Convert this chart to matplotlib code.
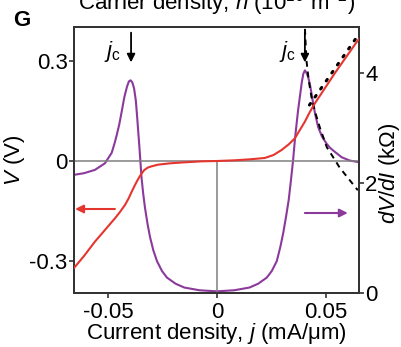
import numpy as np
import matplotlib
matplotlib.use("Agg")
import matplotlib.pyplot as plt

plt.rcParams["font.family"] = ["Liberation Sans", "DejaVu Sans"]
plt.rcParams["mathtext.fontset"] = "custom"
plt.rcParams["mathtext.rm"] = "Liberation Sans"
plt.rcParams["mathtext.it"] = "Liberation Sans:italic"

# current density (mA/um) and voltage V (V), left axis
j_v = [-0.0656, -0.0610, -0.0560, -0.0514, -0.0468, -0.0445, -0.0422, -0.0405, -0.0391,
       -0.0379, -0.0368, -0.0356, -0.0345, -0.0333, -0.0318, -0.0300, -0.0270, -0.0216,
       -0.0150, -0.0070, 0.0, 0.0080, 0.0150, 0.0220, 0.0260, 0.0297, 0.0330, 0.0358,
       0.0380, 0.0404, 0.0425, 0.0450, 0.0541, 0.0600, 0.0642, 0.0652]
v = [-0.321, -0.285, -0.242, -0.207, -0.172, -0.153, -0.132, -0.112, -0.092,
     -0.076, -0.062, -0.048, -0.037, -0.027, -0.020, -0.016, -0.011, -0.007,
     -0.004, -0.001, 0.0, 0.002, 0.005, 0.009, 0.018, 0.033, 0.050, 0.068,
     0.092, 0.118, 0.145, 0.173, 0.263, 0.318, 0.357, 0.366]

# differential resistance dV/dI (kOhm), right axis
j_r = [-0.0656, -0.0610, -0.0560, -0.0514, -0.0483, -0.0470, -0.0460, -0.0448, -0.0437,
       -0.0425, -0.0413, -0.0404, -0.0396, -0.0388, -0.0380, -0.0372, -0.0365, -0.0355,
       -0.0346, -0.0338, -0.0330, -0.0318, -0.0307, -0.0292, -0.0275, -0.0252, -0.0229,
       -0.0190, -0.0150, -0.0080, 0.0, 0.0080, 0.0150, 0.0190, 0.0229, 0.0252, 0.0275,
       0.0292, 0.0305, 0.0318, 0.0330, 0.0340, 0.0350, 0.0358, 0.0366, 0.0373, 0.0382,
       0.0390, 0.0397, 0.0404, 0.0411, 0.0419, 0.0427, 0.0435, 0.0442, 0.0452, 0.0465,
       0.0482, 0.0503, 0.0520, 0.0541, 0.0573, 0.0610, 0.0652]
dvdi = [2.15, 2.18, 2.24, 2.36, 2.55, 2.72, 2.87, 3.07, 3.30,
        3.56, 3.75, 3.85, 3.87, 3.83, 3.72, 3.50, 3.15, 2.62,
        2.10, 1.80, 1.55, 1.25, 1.02, 0.78, 0.58, 0.40, 0.28,
        0.17, 0.10, 0.05, 0.03, 0.05, 0.10, 0.17, 0.28, 0.40, 0.58,
        0.85, 1.10, 1.40, 1.70, 2.05, 2.42, 2.78, 3.08, 3.33, 3.60,
        3.84, 3.99, 4.05, 4.01, 3.93, 3.80, 3.62, 3.45, 3.24, 3.02,
        2.85, 2.72, 2.64, 2.57, 2.47, 2.41, 2.38]

# fits above j_c
j_dash = [0.0402, 0.0411, 0.0422, 0.0434, 0.0452, 0.0472, 0.0505, 0.0526, 0.0564, 0.0647]
r_dash = [5.00, 4.24, 3.86, 3.57, 3.28, 3.02, 2.65, 2.52, 2.28, 1.87]
j_dot = [0.0425, 0.0645]
v_dot = [0.168, 0.374]

red = "#e5352f"
purple = "#8b3a9c"

fig = plt.figure(figsize=(4.01, 3.47), dpi=100)
ax = fig.add_axes([0.1845, 0.1556, 0.7105, 0.7666])
ax2 = ax.twinx()

ax.axhline(0, color="#7f7f7f", lw=1.1, zorder=1)
ax.plot([0, 0], [-0.396, 0], color="#7f7f7f", lw=1.1, zorder=1)

ax2.plot(j_r, dvdi, color=purple, lw=1.5)
ax2.plot(j_dash, r_dash, color="black", lw=1.4, ls=(0, (3, 2.5)))
ax.plot(j_dot, v_dot, color="black", lw=2.2, ls=(0, (0.6, 2.6)), dash_capstyle="round", zorder=3)
ax.plot(j_v, v, color=red, lw=1.5, zorder=4)
ax.set_zorder(ax2.get_zorder() + 1)
ax.patch.set_visible(False)

ax.set_xlim(-0.0656, 0.0652)
ax.set_ylim(-0.396, 0.402)
ax2.set_ylim(0, 4.84)

ax.set_xticks([-0.05, 0, 0.05])
ax.set_xticklabels(["-0.05", "0", "0.05"])
ax.set_yticks([-0.3, 0, 0.3])
ax.set_yticklabels(["-0.3", "0", "0.3"])
ax2.set_yticks([0, 2, 4])
ax2.set_yticklabels(["0", "2", "4"])

for a in (ax, ax2):
    a.tick_params(labelsize=16, length=3.5, width=1.2, pad=1, color="#333333")
    for s in a.spines.values():
        s.set_linewidth(1.3)
        s.set_color("#333333")
ax.tick_params(axis="x", pad=3)

ax.set_xlabel(r"Current density, $j$ (mA/$\mathrm{\mu}$m)", fontsize=16, labelpad=-1.5)
ax.set_ylabel(r"$V$ (V)", fontsize=16, labelpad=2)
ax2.set_ylabel(r"$dV/dI$ (k$\Omega$)", fontsize=16, labelpad=3)
ax2.yaxis.set_label_coords(1.065, 0.45)

# critical current markers
for jx, tx in [(-0.0394, -0.0478), (0.0404, 0.0322)]:
    ax.annotate("", xy=(jx, 0.296), xytext=(jx, 0.385),
                arrowprops=dict(arrowstyle="-|>", color="black", lw=1.3,
                                mutation_scale=12, shrinkA=0, shrinkB=0))
    ax.text(tx, 0.327, r"$j_\mathrm{c}$", fontsize=16, ha="center", va="center")

# axis arrows
ax.annotate("", xy=(-0.0651, -0.144), xytext=(-0.0468, -0.144),
            arrowprops=dict(arrowstyle="-|>", color=red, lw=1.5,
                            mutation_scale=12, shrinkA=0, shrinkB=0))
ax.annotate("", xy=(0.0601, -0.156), xytext=(0.0404, -0.156),
            arrowprops=dict(arrowstyle="-|>", color=purple, lw=1.5,
                            mutation_scale=12, shrinkA=0, shrinkB=0))

fig.text(0.055, 0.94, "G", fontsize=16, fontweight="bold", ha="center", va="center")
fig.text(0.54, 1 - 10 / 347, r"Carrier density, $n$ (10$^{16}$ m$^{-2}$)",
         fontsize=16, ha="center", va="baseline")

fig.savefig("out.png", dpi=100)
